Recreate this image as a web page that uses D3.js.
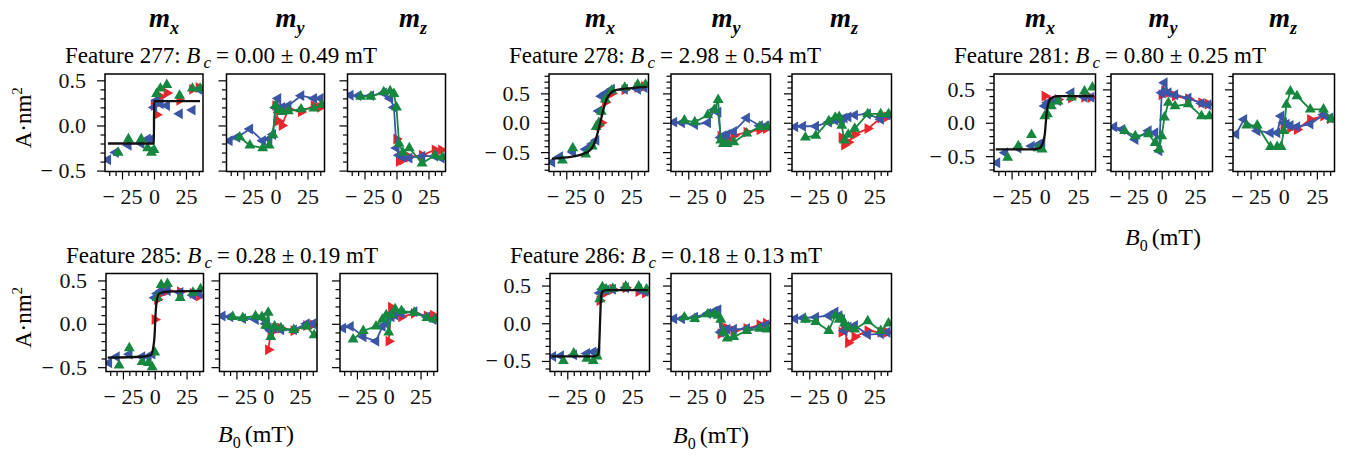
<!DOCTYPE html>
<html>
<head>
<meta charset="utf-8">
<script src="https://cdn.jsdelivr.net/npm/d3@7"></script>
<style>
  body { margin: 0; background: #fff; }
  svg { display: block; font-family: "Liberation Serif", "Times New Roman", serif; }
</style>
</head>
<body>
<script>
// =========================
// DATI
// =========================
const features = [277, 278, 281, 285, 286];
const bcValues = ["0.00", "2.98", "0.80", "0.28", "0.18"];
const bcErrors = ["0.49", "0.54", "0.25", "0.19", "0.13"];
const components = ["x", "y", "z"];

// campo B0 (mT) per ogni ramo della misura
const fieldRed = [0, 2, 5, 10, 20, 30, 35];
const fieldBlue = [35, 30, 20, 10, 5, 2, 0, -2, -5, -10, -20, -30, -36];
const fieldGreen = [-28, -20, -10, -5, -2, 0, 2, 5, 10, 20, 30, 36];

const xTicks = [-25, 0, 25];
const yTicks = [-0.5, 0, 0.5];

// [mx, my, mz] per ogni feature
const red277 = [
  [0.22, 0.12, 0.32, 0.36, 0.28, 0.40, 0.42],
  [0.22, 0.05, 0.0, 0.18, 0.15, 0.22, 0.2],
  [-0.15, -0.4, -0.38, -0.35, -0.33, -0.27, -0.27]
];
const blue277 = [
  [0.4, 0.17, 0.13, 0.22, 0.24, 0.28, 0.2, -0.15, -0.15, -0.2, -0.22, -0.3, -0.38],
  [0.3, 0.3, 0.33, 0.22, 0.2, 0.3, 0.2, -0.1, -0.15, -0.17, -0.04, -0.13, -0.17],
  [-0.36, -0.34, -0.34, -0.36, -0.35, -0.33, -0.25, 0.2, 0.3, 0.36, 0.33, 0.33, 0.335]
];
const green277 = [
  [-0.3, -0.15, -0.15, -0.25, -0.3, -0.27, 0.35, 0.41, 0.45, 0.33, 0.41, 0.41],
  [-0.13, -0.22, -0.25, -0.22, -0.1, 0.22, 0.17, 0.15, 0.16, 0.18, 0.19, 0.23],
  [0.32, 0.32, 0.37, 0.38, 0.35, 0.2, -0.2, -0.3, -0.25, -0.42, -0.33, -0.35]
];

const red278 = [
  [-0.05, 0.0, 0.35, 0.5, 0.56, 0.6, 0.62],
  [-0.23, -0.3, -0.3, -0.22, -0.16, -0.12, -0.1],
  [-0.25, -0.38, -0.33, -0.2, -0.1, 0.08, 0.1]
];
const blue278 = [
  [0.6, 0.57, 0.57, 0.57, 0.5, 0.45, 0.2, -0.3, -0.36, -0.45, -0.5, -0.58, -0.67],
  [-0.05, -0.05, 0.08, -0.15, -0.2, -0.22, -0.25, 0.18, 0.22, 0.0, -0.03, 0.0, 0.01],
  [0.13, 0.06, 0.15, 0.13, 0.1, 0.08, 0.06, 0.05, 0.04, 0.01, -0.06, -0.06, -0.07]
];
const green278 = [
  [-0.64, -0.43, -0.54, -0.4, -0.07, 0.0, 0.19, 0.4, 0.55, 0.6, 0.65, 0.65],
  [0.04, 0.01, 0.13, 0.22, 0.39, -0.3, -0.36, -0.36, -0.33, -0.18, -0.07, -0.07],
  [-0.25, -0.22, 0.03, 0.09, 0.1, -0.05, -0.3, -0.2, -0.1, 0.15, 0.15, 0.15]
];

const red281 = [
  [0.4, 0.28, 0.33, 0.35, 0.37, 0.38, 0.38],
  [0.42, 0.48, 0.45, 0.4, 0.36, 0.3, 0.28],
  [-0.05, -0.02, -0.08, -0.1, 0.05, 0.1, 0.06]
];
const blue281 = [
  [0.38, 0.38, 0.45, 0.33, 0.3, 0.3, 0.25, -0.3, -0.33, -0.35, -0.38, -0.45, -0.6],
  [0.27, 0.29, 0.37, 0.42, 0.45, 0.6, 0.45, -0.42, -0.15, -0.12, -0.25, -0.1, -0.06],
  [0.07, 0.12, -0.02, -0.06, -0.04, -0.02, 0.0, 0.1, -0.15, -0.15, -0.12, 0.05, -0.17]
];
const green281 = [
  [-0.52, -0.35, -0.18, -0.38, -0.4, 0.1, 0.13, 0.25, 0.32, 0.38, 0.47, 0.53],
  [-0.12, -0.2, -0.17, -0.3, -0.4, -0.2, 0.08, 0.3, 0.25, 0.28, 0.1, 0.1],
  [-0.04, -0.04, -0.36, -0.36, -0.36, -0.12, 0.27, 0.47, 0.4, 0.2, 0.2, 0.05]
];

const red285 = [
  [0.05, 0.28, 0.35, 0.38, 0.37, 0.35, 0.32],
  [-0.3, -0.1, -0.05, -0.05, -0.08, -0.02, -0.01],
  [-0.2, 0.19, 0.1, 0.08, 0.12, 0.09, 0.1]
];
const blue285 = [
  [0.35, 0.33, 0.36, 0.38, 0.38, 0.35, 0.3, -0.35, -0.38, -0.38, -0.35, -0.38, -0.45],
  [0.0, 0.0, -0.07, -0.07, -0.05, -0.08, -0.05, 0.0, 0.07, 0.05, 0.06, 0.08, 0.09],
  [0.05, 0.08, 0.14, 0.12, 0.1, 0.08, 0.1, 0.0, -0.03, -0.2, -0.15, -0.03, -0.05]
];
const green285 = [
  [-0.48, -0.28, -0.44, -0.45, -0.5, -0.33, 0.3, 0.45, 0.46, 0.3, 0.36, 0.4],
  [0.08, 0.07, 0.09, 0.08, -0.02, 0.13, -0.15, -0.03, -0.05, -0.07, -0.03, -0.13],
  [-0.18, -0.08, -0.03, 0.05, 0.1, -0.1, 0.1, 0.17, 0.15, 0.13, 0.07, 0.05]
];

const red286 = [
  [0.3, 0.38, 0.42, 0.45, 0.47, 0.42, 0.4],
  [-0.14, -0.05, -0.07, -0.1, -0.07, -0.02, 0.0],
  [-0.12, -0.1, -0.26, -0.18, -0.1, -0.12, -0.12]
];
const blue286 = [
  [0.42, 0.45, 0.47, 0.45, 0.44, 0.45, 0.4, -0.38, -0.38, -0.4, -0.42, -0.43, -0.44],
  [-0.02, -0.05, -0.07, -0.08, -0.08, -0.1, -0.12, 0.18, 0.16, 0.13, 0.08, 0.06, 0.06],
  [-0.12, -0.14, -0.15, -0.03, -0.05, -0.1, 0.05, 0.1, 0.15, 0.1, 0.08, 0.07, 0.06]
];
const green286 = [
  [-0.5, -0.4, -0.47, -0.5, -0.44, 0.32, 0.48, 0.45, 0.46, 0.49, 0.49, 0.45],
  [0.08, 0.06, 0.12, 0.12, 0.1, 0.05, -0.12, -0.2, -0.18, -0.1, -0.07, -0.08],
  [0.05, 0.02, -0.1, 0.1, 0.05, 0.07, 0.0, -0.05, -0.08, 0.03, -0.1, 0.0]
];

// curve di fit (solo mx)
const fitX277 = [-36, -0.05, 0.05, 36];
const fitY277 = [-0.2, -0.2, 0.27, 0.27];
const fitX278 = [-36, -25, -12, -6, -3, 0, 2, 4, 6, 10, 14, 25, 37];
const fitY278 = [-0.61, -0.59, -0.53, -0.45, -0.33, -0.1, 0.08, 0.26, 0.4, 0.52, 0.56, 0.59, 0.61];
const fitX281 = [-37, -10, -4, -2, 0, 0.8, 1.6, 4, 6, 10, 37];
const fitY281 = [-0.4, -0.4, -0.38, -0.33, -0.18, 0, 0.18, 0.35, 0.38, 0.4, 0.4];
const fitX285 = [-37, -10, -3, -1.5, 0, 0.3, 0.6, 2, 3.5, 10, 37];
const fitY285 = [-0.39, -0.38, -0.36, -0.3, -0.1, 0, 0.1, 0.3, 0.35, 0.37, 0.38];
const fitX286 = [-37, -5, -1.5, -0.6, 0, 0.2, 0.4, 1, 2, 5, 37];
const fitY286 = [-0.44, -0.44, -0.42, -0.35, -0.1, 0, 0.1, 0.35, 0.42, 0.44, 0.44];

const reds = [red277, red278, red281, red285, red286];
const blues = [blue277, blue278, blue281, blue285, blue286];
const greens = [green277, green278, green281, green285, green286];
const fitsX = [fitX277, fitX278, fitX281, fitX285, fitX286];
const fitsY = [fitY277, fitY278, fitY281, fitY285, fitY286];

const yDomains = [[-0.51, 0.57], [-0.83, 0.83], [-0.73, 0.73], [-0.55, 0.58], [-0.64, 0.66]];

// =========================
// LAYOUT
// =========================
const panels = [
  { lefts: [105, 226.5, 347.5], width: 98, top: 74, height: 97.5 },
  { lefts: [549, 671, 792], width: 99.5, top: 74, height: 97.5 },
  { lefts: [994, 1111, 1233], width: 101.5, top: 74, height: 97.5 },
  { lefts: [106, 219.5, 340], width: 97.5, top: 273.5, height: 98 },
  { lefts: [550, 671, 792], width: 99.5, top: 273.5, height: 98 }
];
const headerX = [[164, 290, 413], [600, 726, 844], [1040, 1163, 1283]];
const xLabels = [null, null, { x: 1163, y: 245 }, { x: 256, y: 442 }, { x: 711, y: 443 }];

const colors = { red: "#e8262b", blue: "#3b56a6", green: "#16873f" };
const xDomain = [-38.3, 38.3];

const svg = d3.select("body").append("svg")
  .attr("width", 1356)
  .attr("height", 459);

function triangle(dir, r) {
  const a = r * 0.866, b = r * 0.5;
  if (dir === "up") return `M0,${-r}L${a},${b}L${-a},${b}Z`;
  if (dir === "right") return `M${r},0L${-b},${a}L${-b},${-a}Z`;
  return `M${-r},0L${b},${a}L${b},${-a}Z`;
}

const fmtMinus = v => (v < 0 ? "\u2212 " : "");
const fmtX = d => fmtMinus(d) + Math.abs(d);
const fmtY = d => fmtMinus(d) + Math.abs(d).toFixed(1);

function range(a, b, step) {
  const out = [];
  for (let v = a; v <= b + 1e-9; v += step) out.push(+v.toFixed(3));
  return out;
}

// =========================
// PANNELLI
// =========================
features.forEach((feat, f) => {
  const P = panels[f];
  const y = d3.scaleLinear().domain(yDomains[f]).range([P.top + P.height, P.top]);
  const yMinor = range(Math.ceil(yDomains[f][0] * 10) / 10, yDomains[f][1], 0.1)
    .filter(v => !yTicks.includes(v));

  // titolo della feature
  const title = svg.append("text")
    .attr("x", P.lefts[0] - 40)
    .attr("y", P.top - 11)
    .attr("font-size", 23);
  title.append("tspan").text(`Feature ${feat}: `);
  title.append("tspan").attr("font-style", "italic").text("B");
  title.append("tspan").attr("font-style", "italic").attr("font-size", 17)
    .attr("dx", 3).attr("dy", 5).text("c");
  title.append("tspan").attr("dy", -5).attr("dx", 5)
    .text(`= ${bcValues[f]} \u00b1 ${bcErrors[f]}  mT`);

  components.forEach((c, j) => {
    const left = P.lefts[j];
    const x = d3.scaleLinear().domain(xDomain).range([left, left + P.width]);
    const g = svg.append("g");

    // assi
    const bottom = P.top + P.height;
    const xMinor = range(-35, 35, 5).filter(v => !xTicks.includes(v));

    g.append("g")
      .attr("transform", `translate(0,${bottom})`)
      .call(d3.axisBottom(x).tickValues(xMinor).tickSize(4.5).tickFormat(""))
      .call(a => a.select(".domain").remove());
    g.append("g")
      .attr("transform", `translate(0,${bottom})`)
      .call(d3.axisBottom(x).tickValues(xTicks).tickSize(8).tickPadding(9).tickFormat(fmtX))
      .call(a => a.select(".domain").remove());

    g.append("g")
      .attr("transform", `translate(${left},0)`)
      .call(d3.axisLeft(y).tickValues(yMinor).tickSize(4.5).tickFormat(""))
      .call(a => a.select(".domain").remove());
    g.append("g")
      .attr("transform", `translate(${left},0)`)
      .call(d3.axisLeft(y).tickValues(yTicks).tickSize(8).tickPadding(11)
        .tickFormat(j === 0 ? fmtY : () => ""))
      .call(a => a.select(".domain").remove());

    g.selectAll(".tick line").attr("stroke", "#000").attr("stroke-width", 1.2);
    g.selectAll(".tick text")
      .attr("font-family", "Liberation Serif, serif")
      .attr("font-size", 22)
      .attr("fill", "#111");

    // clip
    const clipId = `clip-${feat}-${c}`;
    svg.append("clipPath").attr("id", clipId)
      .append("rect")
      .attr("x", left).attr("y", P.top)
      .attr("width", P.width).attr("height", P.height);
    const plot = g.append("g").attr("clip-path", `url(#${clipId})`);

    const series = [
      { xs: fieldRed, ys: reds[f][j], color: colors.red, dir: "right" },
      { xs: fieldBlue, ys: blues[f][j], color: colors.blue, dir: "left" },
      { xs: fieldGreen, ys: greens[f][j], color: colors.green, dir: "up" }
    ];

    series.forEach(s => {
      const pts = s.xs.map((v, i) => [v, s.ys[i]]);
      if (j > 0) {
        plot.append("path")
          .datum(pts)
          .attr("fill", "none")
          .attr("stroke", s.color)
          .attr("stroke-width", 1.8)
          .attr("d", d3.line().x(d => x(d[0])).y(d => y(d[1])));
      }
      plot.selectAll(null)
        .data(pts)
        .enter()
        .append("path")
        .attr("transform", d => `translate(${x(d[0])},${y(d[1])})`)
        .attr("d", triangle(s.dir, 6.3))
        .attr("fill", s.color);
    });

    if (j === 0) {
      const fit = fitsX[f].map((v, i) => [v, fitsY[f][i]]);
      plot.append("path")
        .datum(fit)
        .attr("fill", "none")
        .attr("stroke", "#111")
        .attr("stroke-width", 2.3)
        .attr("d", d3.line().x(d => x(d[0])).y(d => y(d[1])).curve(d3.curveMonotoneX));
    }

    // cornice
    g.append("rect")
      .attr("x", left).attr("y", P.top)
      .attr("width", P.width).attr("height", P.height)
      .attr("fill", "none")
      .attr("stroke", "#000")
      .attr("stroke-width", 1.5);

    // intestazioni m_x, m_y, m_z
    if (f < 3) {
      const h = svg.append("text")
        .attr("x", headerX[f][j])
        .attr("y", 27)
        .attr("text-anchor", "middle")
        .attr("font-weight", "bold")
        .attr("font-style", "italic")
        .attr("font-size", 27);
      h.append("tspan").text("m");
      h.append("tspan").attr("font-size", 18).attr("dy", 7).text(c);
    }
  });

  // etichetta asse y
  if (f === 0 || f === 3) {
    const cy = P.top + P.height / 2 - 5;
    const t = svg.append("text")
      .attr("transform", `translate(31,${cy}) rotate(-90)`)
      .attr("text-anchor", "middle")
      .attr("font-size", 23);
    t.append("tspan").text("A\u00b7nm");
    t.append("tspan").attr("font-size", 15).attr("dy", -9).text("2");
  }

  // etichetta asse x
  if (xLabels[f]) {
    const t = svg.append("text")
      .attr("x", xLabels[f].x)
      .attr("y", xLabels[f].y)
      .attr("text-anchor", "middle")
      .attr("font-size", 24);
    t.append("tspan").attr("font-style", "italic").text("B");
    t.append("tspan").attr("font-size", 16).attr("dy", 6).text("0");
    t.append("tspan").attr("dy", -6).attr("dx", 4).text("(mT)");
  }
});
</script>
</body>
</html>
